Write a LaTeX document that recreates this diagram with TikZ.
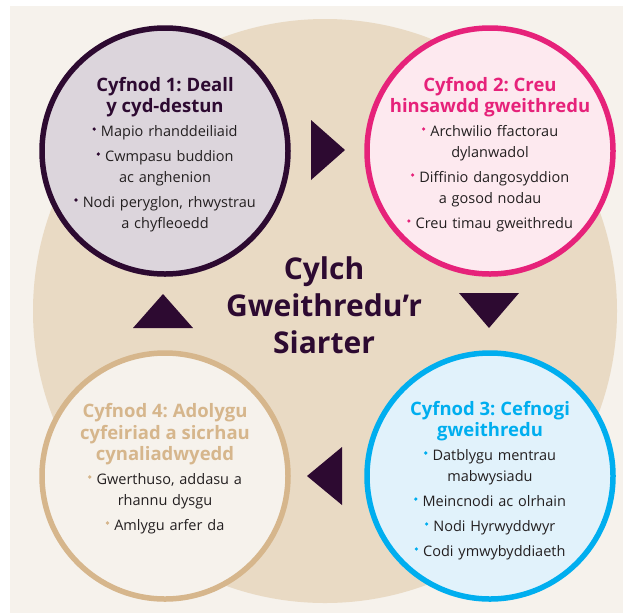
\documentclass[tikz,border=0pt]{standalone}
\usepackage{fontspec}
\setmainfont{Open Sans}
\definecolor{bg}{HTML}{F6F2EC}
\definecolor{bigc}{HTML}{E9DAC4}
\definecolor{plum}{HTML}{2D0A31}
\definecolor{plumfill}{HTML}{DCD5DC}
\definecolor{pinkc}{HTML}{E6227A}
\definecolor{pinkfill}{HTML}{FDE9EF}
\definecolor{skyc}{HTML}{00AEEF}
\definecolor{skyfill}{HTML}{E1F2FB}
\definecolor{tanc}{HTML}{D6B68C}
\definecolor{ink}{HTML}{231F20}
\newcommand\bl[1]{\tikz[baseline={(0pt,0pt)}]\fill[#1] (1.8pt,7pt) circle[radius=1.8pt];\hspace{5pt}}
\newcommand\ttl[2]{{\fontsize{18.5}{22}\selectfont\bfseries\color{#1}#2}}
\frenchspacing
\begin{document}
\begin{tikzpicture}[x=1pt,y=-1pt,
  stage/.style={circle, line width=5.5pt, minimum size=246pt, inner sep=0pt},
  stext/.style={text width=240pt, align=center, inner sep=0pt, anchor=base, text=ink,
    font=\fontsize{14.5}{21}\selectfont\frenchspacing},
  tri/.style={fill=plum}]
\useasboundingbox (0,0) rectangle (623,614);
\fill[bg] (10,6) rectangle (623,613);
\fill[bigc] (325,311) circle[radius=292];
% stage circles
\node[stage, draw=plum, fill=plumfill] (c1) at (165,151) {};
\node[stage, draw=pinkc, fill=pinkfill] (c2) at (490,151) {};
\node[stage, draw=skyc, fill=skyfill] (c3) at (490,476) {};
\node[stage, draw=tanc, fill=bg] (c4) at (165,476) {};
% arrows
\coordinate (a1a) at (311,120); \coordinate (a1b) at (311,180); \coordinate (a1c) at (345,150);
\coordinate (a2a) at (459,293); \coordinate (a2b) at (519,293); \coordinate (a2c) at (489,328);
\coordinate (a3a) at (342,447); \coordinate (a3b) at (342,505); \coordinate (a3c) at (307,476);
\coordinate (a4a) at (133,328); \coordinate (a4b) at (193,328); \coordinate (a4c) at (163,294);
\fill[tri] (a1a) -- (a1b) -- (a1c) -- cycle;
\fill[tri] (a2a) -- (a2b) -- (a2c) -- cycle;
\fill[tri] (a3a) -- (a3b) -- (a3c) -- cycle;
\fill[tri] (a4a) -- (a4b) -- (a4c) -- cycle;
% centre title
\node[text width=240pt, align=center, inner sep=0pt, anchor=base, text=plum,
  font=\fontsize{30}{37}\selectfont\bfseries] (ctr) at (324,279)
  {Cylch\\ Gweithredu’r\\ Siarter};
% texts
\node[stext] (t1) at (165,91) {\ttl{plum}{Cyfnod 1: Deall\\ y cyd-destun}\\[3pt]
  \bl{plum}Mapio rhanddeiliaid\\[4pt]
  \bl{plum}Cwmpasu buddion\\ ac anghenion\\[4pt]
  \bl{plum}Nodi peryglon, rhwystrau\\ a chyfleoedd};
\node[stext] (t2) at (490,91) {\ttl{pinkc}{Cyfnod 2: Creu\\ hinsawdd gweithredu}\\[3pt]
  \bl{pinkc}Archwilio ffactorau\\ dylanwadol\\[4pt]
  \bl{pinkc}Diffinio dangosyddion\\ a gosod nodau\\[4pt]
  \bl{pinkc}Creu timau gweithredu};
\node[stext] (t3) at (490,415) {\ttl{skyc}{Cyfnod 3: Cefnogi\\ gweithredu}\\[3pt]
  \bl{skyc}Datblygu mentrau\\ mabwysiadu\\[4pt]
  \bl{skyc}Meincnodi ac olrhain\\[4pt]
  \bl{skyc}Nodi Hyrwyddwyr\\[4pt]
  \bl{skyc}Codi ymwybyddiaeth};
\node[stext] (t4) at (165,417) {\ttl{tanc}{Cyfnod 4: Adolygu\\ cyfeiriad a sicrhau\\ cynaliadwyedd}\\[3pt]
  \bl{tanc}Gwerthuso, addasu a\\ rhannu dysgu\\[4pt]
  \bl{tanc}Amlygu arfer da};
\end{tikzpicture}
\end{document}
